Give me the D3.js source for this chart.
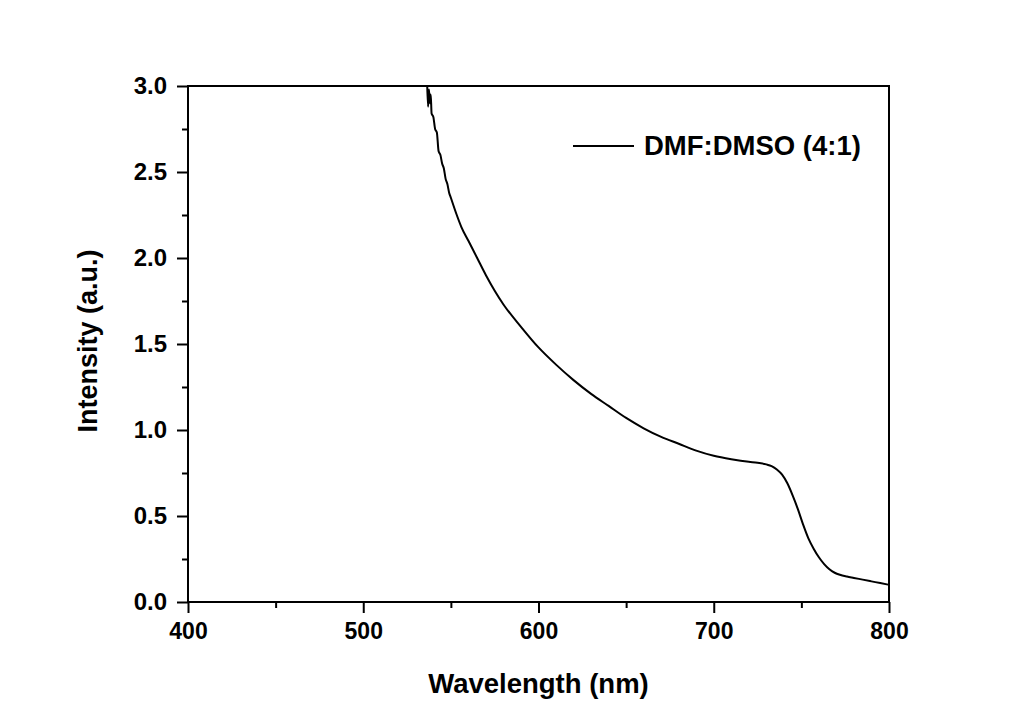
<!DOCTYPE html>
<html>
<head>
<meta charset="utf-8">
<script src="https://cdn.jsdelivr.net/npm/d3@7"></script>
<style>
  body { margin: 0; background: #fff; }
  svg text { font-family: "Liberation Sans", Arial, sans-serif; font-weight: bold; fill: #000; }
</style>
</head>
<body>
<div id="chart"></div>
<script>
// DATA
const wavelength = [536.5, 537, 537.5, 538, 538.5, 539, 540, 541, 542, 543, 544, 545, 546, 547, 548, 549, 550,
  553, 556, 560, 565, 570, 575, 580, 590, 600, 610, 620, 630, 640, 650, 660, 670, 680, 690, 700,
  710, 720, 725, 730, 733, 736, 739, 742, 745, 748, 751, 754, 757, 760, 763, 766, 769, 772, 776, 780, 785, 790, 795, 800];
const intensity = [3.0, 2.88, 2.98, 2.9, 2.95, 2.84, 2.82, 2.75, 2.73, 2.62, 2.6, 2.55, 2.52, 2.46, 2.43, 2.38, 2.35,
  2.26, 2.18, 2.1, 2.0, 1.9, 1.81, 1.73, 1.6, 1.48, 1.38, 1.29, 1.21, 1.14, 1.07, 1.01, 0.96, 0.92, 0.88, 0.85,
  0.83, 0.815, 0.81, 0.8, 0.79, 0.77, 0.74, 0.69, 0.62, 0.54, 0.45, 0.37, 0.31, 0.26, 0.22, 0.19, 0.17, 0.158, 0.148, 0.14, 0.13, 0.12, 0.11, 0.1];
const xTicks = [400, 500, 600, 700, 800];
const yTicks = [0.0, 0.5, 1.0, 1.5, 2.0, 2.5, 3.0];
const seriesName = 'DMF:DMSO (4:1)';

const width = 1016, height = 711;
const margin = { top: 86, right: 127, bottom: 109, left: 188 };

const svg = d3.select('#chart').append('svg')
  .attr('width', width)
  .attr('height', height);

const xScale = d3.scaleLinear().domain([400, 800]).range([margin.left, width - margin.right]);
const yScale = d3.scaleLinear().domain([0, 3]).range([height - margin.bottom, margin.top]);

svg.append('clipPath').attr('id', 'plotClip')
  .append('rect')
  .attr('x', margin.left).attr('y', margin.top)
  .attr('width', xScale(800) - xScale(400))
  .attr('height', yScale(0) - yScale(3));

// minor ticks
const xMinor = d3.range(450, 800, 100);
const yMinor = d3.range(0.25, 3, 0.5);

svg.append('g')
  .attr('transform', `translate(0, ${yScale(0)})`)
  .call(d3.axisBottom(xScale).tickValues(xMinor).tickSize(6).tickFormat(''))
  .call(g => g.select('.domain').remove())
  .call(g => g.selectAll('line').attr('stroke-width', 2));

svg.append('g')
  .attr('transform', `translate(${margin.left}, 0)`)
  .call(d3.axisLeft(yScale).tickValues(yMinor).tickSize(6).tickFormat(''))
  .call(g => g.select('.domain').remove())
  .call(g => g.selectAll('line').attr('stroke-width', 2));

// major axes
svg.append('g')
  .attr('transform', `translate(0, ${yScale(0)})`)
  .call(d3.axisBottom(xScale).tickValues(xTicks).tickSize(11).tickPadding(10).tickFormat(d3.format('d')))
  .call(g => g.select('.domain').remove())
  .call(g => g.selectAll('line').attr('stroke-width', 2))
  .call(g => g.selectAll('text').attr('font-size', 23).style('font-family', '"Liberation Sans", Arial, sans-serif').style('font-weight', 'bold'));

svg.append('g')
  .attr('transform', `translate(${margin.left}, 0)`)
  .call(d3.axisLeft(yScale).tickValues(yTicks).tickSize(11).tickPadding(10).tickFormat(d3.format('.1f')))
  .call(g => g.select('.domain').remove())
  .call(g => g.selectAll('line').attr('stroke-width', 2))
  .call(g => g.selectAll('text').attr('font-size', 24).style('font-family', '"Liberation Sans", Arial, sans-serif').style('font-weight', 'bold'));

// frame
svg.append('rect')
  .attr('x', xScale(400)).attr('y', yScale(3))
  .attr('width', xScale(800) - xScale(400))
  .attr('height', yScale(0) - yScale(3))
  .attr('fill', 'none').attr('stroke', '#000').attr('stroke-width', 2);

// the curve
const points = wavelength.map((w, i) => ({ w: w, v: intensity[i] }));
const line = d3.line().x(d => xScale(d.w)).y(d => yScale(d.v)).curve(d3.curveMonotoneX);

svg.append('path')
  .datum(points)
  .attr('clip-path', 'url(#plotClip)')
  .attr('fill', 'none')
  .attr('stroke', '#000')
  .attr('stroke-width', 2)
  .attr('d', line);

// legend
svg.append('line')
  .attr('x1', 573).attr('x2', 634)
  .attr('y1', 146).attr('y2', 146)
  .attr('stroke', '#000').attr('stroke-width', 2);
svg.append('text')
  .attr('x', 644).attr('y', 155)
  .attr('font-size', 27.5)
  .text(seriesName);

// axis titles
svg.append('text')
  .attr('x', (xScale(400) + xScale(800)) / 2)
  .attr('y', 693)
  .attr('text-anchor', 'middle')
  .attr('font-size', 27.5)
  .text('Wavelength (nm)');

svg.append('text')
  .attr('transform', 'rotate(-90)')
  .attr('x', -341)
  .attr('y', 97)
  .attr('text-anchor', 'middle')
  .attr('font-size', 27)
  .text('Intensity (a.u.)');
</script>
</body>
</html>
